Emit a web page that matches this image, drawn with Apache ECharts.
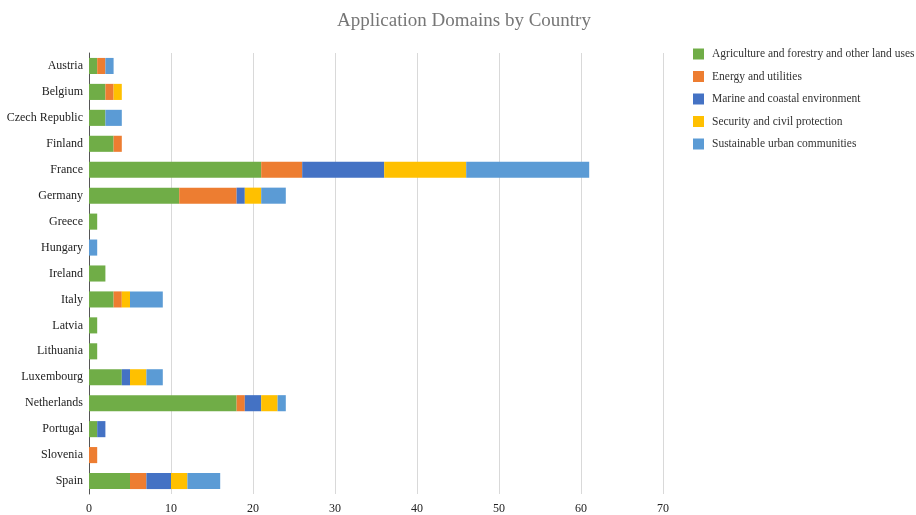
<!DOCTYPE html>
<html>
<head>
<meta charset="utf-8">
<title>Application Domains by Country</title>
<script src="https://cdn.jsdelivr.net/npm/echarts@6/dist/echarts.min.js"></script>
<style>
  html, body { margin: 0; padding: 0; background: #fff; }
  #chart { width: 916px; height: 515px; }
</style>
</head>
<body>
<div id="chart"></div>
<script>
// countries, top to bottom
const countries = ['Austria', 'Belgium', 'Czech Republic', 'Finland', 'France', 'Germany', 'Greece',
  'Hungary', 'Ireland', 'Italy', 'Latvia', 'Lithuania', 'Luxembourg', 'Netherlands', 'Portugal',
  'Slovenia', 'Spain']

const agriculture = [1, 2, 2, 3, 21, 11, 1, 0, 2, 3, 1, 1, 4, 18, 1, 0, 5]
const energy = [1, 1, 0, 1, 5, 7, 0, 0, 0, 1, 0, 0, 0, 1, 0, 1, 2]
const marine = [0, 0, 0, 0, 10, 1, 0, 0, 0, 0, 0, 0, 1, 2, 1, 0, 3]
const security = [0, 1, 0, 0, 10, 2, 0, 0, 0, 1, 0, 0, 2, 2, 0, 0, 2]
const urban = [1, 0, 2, 0, 15, 3, 0, 1, 0, 4, 0, 0, 2, 1, 0, 0, 4]

const domainNames = ['Agriculture and forestry and other land uses', 'Energy and utilities',
  'Marine and coastal environment', 'Security and civil protection', 'Sustainable urban communities']
const domainColors = ['#70AD47', '#ED7D31', '#4472C4', '#FFC000', '#5B9BD5']
const domainValues = [agriculture, energy, marine, security, urban]

const xTicks = [0, 10, 20, 30, 40, 50, 60, 70]

let myChart = echarts.init(document.getElementById('chart'))

const serif = 'Liberation Serif, Times New Roman, serif'

myChart.setOption({
  animation: false,
  title: {
    text: 'Application Domains by Country',
    left: 459,
    textAlign: 'center',
    top: 7,
    textStyle: { fontFamily: serif, fontSize: 19, fontWeight: 'normal', color: '#767676' }
  },
  legend: {
    orient: 'vertical',
    left: 688,
    top: 43,
    itemWidth: 11,
    itemHeight: 11,
    itemGap: 10.5,
    icon: 'rect',
    textStyle: { fontFamily: serif, fontSize: 11.5, color: '#333', padding: [0, 0, 0, 3] },
    data: domainNames
  },
  grid: { left: 89, right: 253, top: 53, bottom: 21, containLabel: false },
  xAxis: {
    type: 'value',
    min: xTicks[0],
    max: xTicks[xTicks.length - 1],
    interval: 10,
    axisLine: { show: false },
    axisTick: { show: false },
    axisLabel: { fontFamily: serif, fontSize: 12, color: '#222', margin: 9 },
    splitLine: { lineStyle: { color: '#d9d9d9', width: 1 } }
  },
  yAxis: {
    type: 'category',
    inverse: true,
    data: countries,
    axisLine: { show: true, lineStyle: { color: '#555', width: 1 } },
    axisTick: { show: false },
    axisLabel: { fontFamily: serif, fontSize: 12, color: '#222', margin: 6 }
  },
  series: domainNames.map((name, i) => ({
    name: name,
    type: 'bar',
    stack: 'total',
    barCategoryGap: '38%',
    data: domainValues[i],
    itemStyle: { color: domainColors[i] }
  }))
})
</script>
</body>
</html>
